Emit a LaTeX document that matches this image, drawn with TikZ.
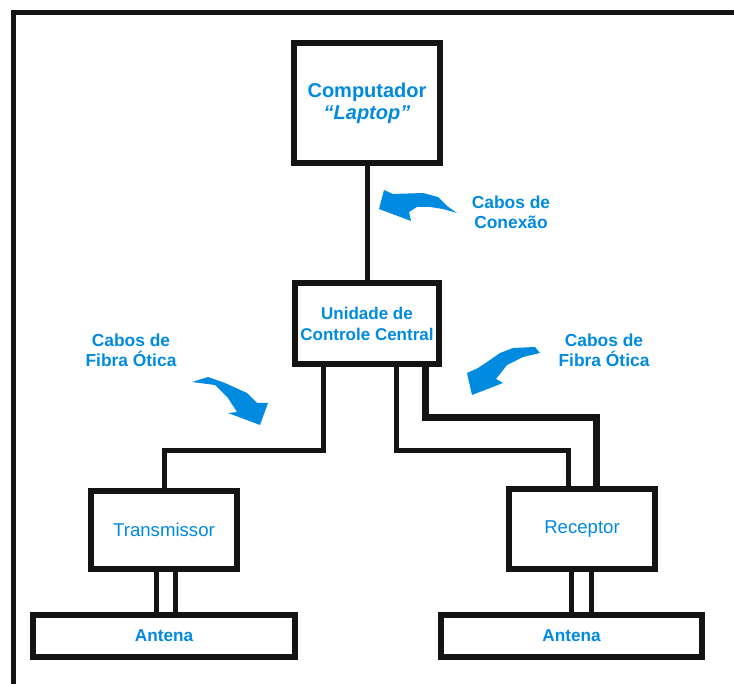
\documentclass[tikz,border=0pt]{standalone}
\usepackage{fontspec}
\setmainfont{Liberation Sans}
\definecolor{azul}{RGB}{0,138,224}
\definecolor{preto}{RGB}{20,20,20}
\begin{document}
\begin{tikzpicture}[x=0.5pt,y=-0.5pt]
\tikzstyle{every node}=[text=azul,align=center,inner sep=0pt]
\tikzstyle{caixa}=[draw=preto,line width=3pt,fill=white,font=\bfseries]
\tikzstyle{cabo}=[draw=preto,line width=2.5pt]
\tikzstyle{rotulo}=[font=\bfseries\fontsize{8.7}{10}\selectfont]
\useasboundingbox (0,0) rectangle (734,684);
\draw[cabo] (13.5,684) -- (13.5,12.5) -- (734,12.5);
\node[caixa,minimum width=73pt,minimum height=60pt,font=\bfseries\fontsize{10}{11}\selectfont](pc) at (367,103) {Computador\\\textit{“Laptop”}};
\node[caixa,minimum width=72pt,minimum height=40.5pt,font=\bfseries\fontsize{8.5}{10.5}\selectfont](ucc) at (367,323.5) {Unidade de\\Controle Central};
\node[caixa,minimum width=73pt,minimum height=39pt,font=\fontsize{9.3}{11}\selectfont](tx) at (164,530) {Transmissor};
\node[caixa,minimum width=73pt,minimum height=40pt,font=\fontsize{9.3}{11}\selectfont](rx) at (582,529) {Receptor};
\node[caixa,minimum width=131pt,minimum height=21pt,font=\bfseries\fontsize{8.6}{10}\selectfont](ant1) at (164,636) {Antena};
\node[caixa,minimum width=130.5pt,minimum height=21pt,font=\bfseries\fontsize{8.6}{10}\selectfont](ant2) at (571.5,636) {Antena};
\node[rotulo](conexao) at (511,212) {Cabos de\\Conexão};
\node[rotulo](fibraesq) at (131,350) {Cabos de\\Fibra Ótica};
\node[rotulo](fibradir) at (604,350) {Cabos de\\Fibra Ótica};
% cabos
\draw[cabo] (pc.south) -- (ucc.north);
\draw[cabo] ([xshift=-22pt]ucc.south) -- ++(0,83) -| (tx.north);
\draw[cabo] ([xshift=14.5pt]ucc.south) -- ++(0,83) -| ([xshift=-7pt]rx.north);
\draw[cabo,line width=3.5pt] ([xshift=29pt]ucc.south) -- ++(0,50) -| ([xshift=7pt]rx.north);
\draw[cabo] ([xshift=-4pt]tx.south) -- ([xshift=-4pt]tx.south |- ant1.north);
\draw[cabo] ([xshift=5.5pt]tx.south) -- ([xshift=5.5pt]tx.south |- ant1.north);
\draw[cabo] ([xshift=-5.5pt]rx.south) -- ([xshift=-5.5pt]rx.south |- ant2.north);
\draw[cabo] ([xshift=4.5pt]rx.south) -- ([xshift=4.5pt]rx.south |- ant2.north);
% setas
\fill[azul] (379,209) -- (384,190) -- (393,194) -- (423,193) -- (438,197) -- (447,206) -- (457,213) -- (443,209) -- (430,207) -- (417,207) -- (409,212) -- (411,221) -- cycle;
\fill[azul] (540,353) -- (535,347) -- (513,348) -- (500,353) -- (487,362) -- (478,368) -- (467,373) -- (472,395) -- (503,383) -- (496,379) -- (507,365) -- (523,357) -- cycle;
\fill[azul] (192,382) -- (208,377) -- (225,383) -- (247,393) -- (257,403) -- (268,403) -- (260,425) -- (228,413) -- (237,412) -- (228,398) -- (215,385) -- cycle;
\end{tikzpicture}
\end{document}
